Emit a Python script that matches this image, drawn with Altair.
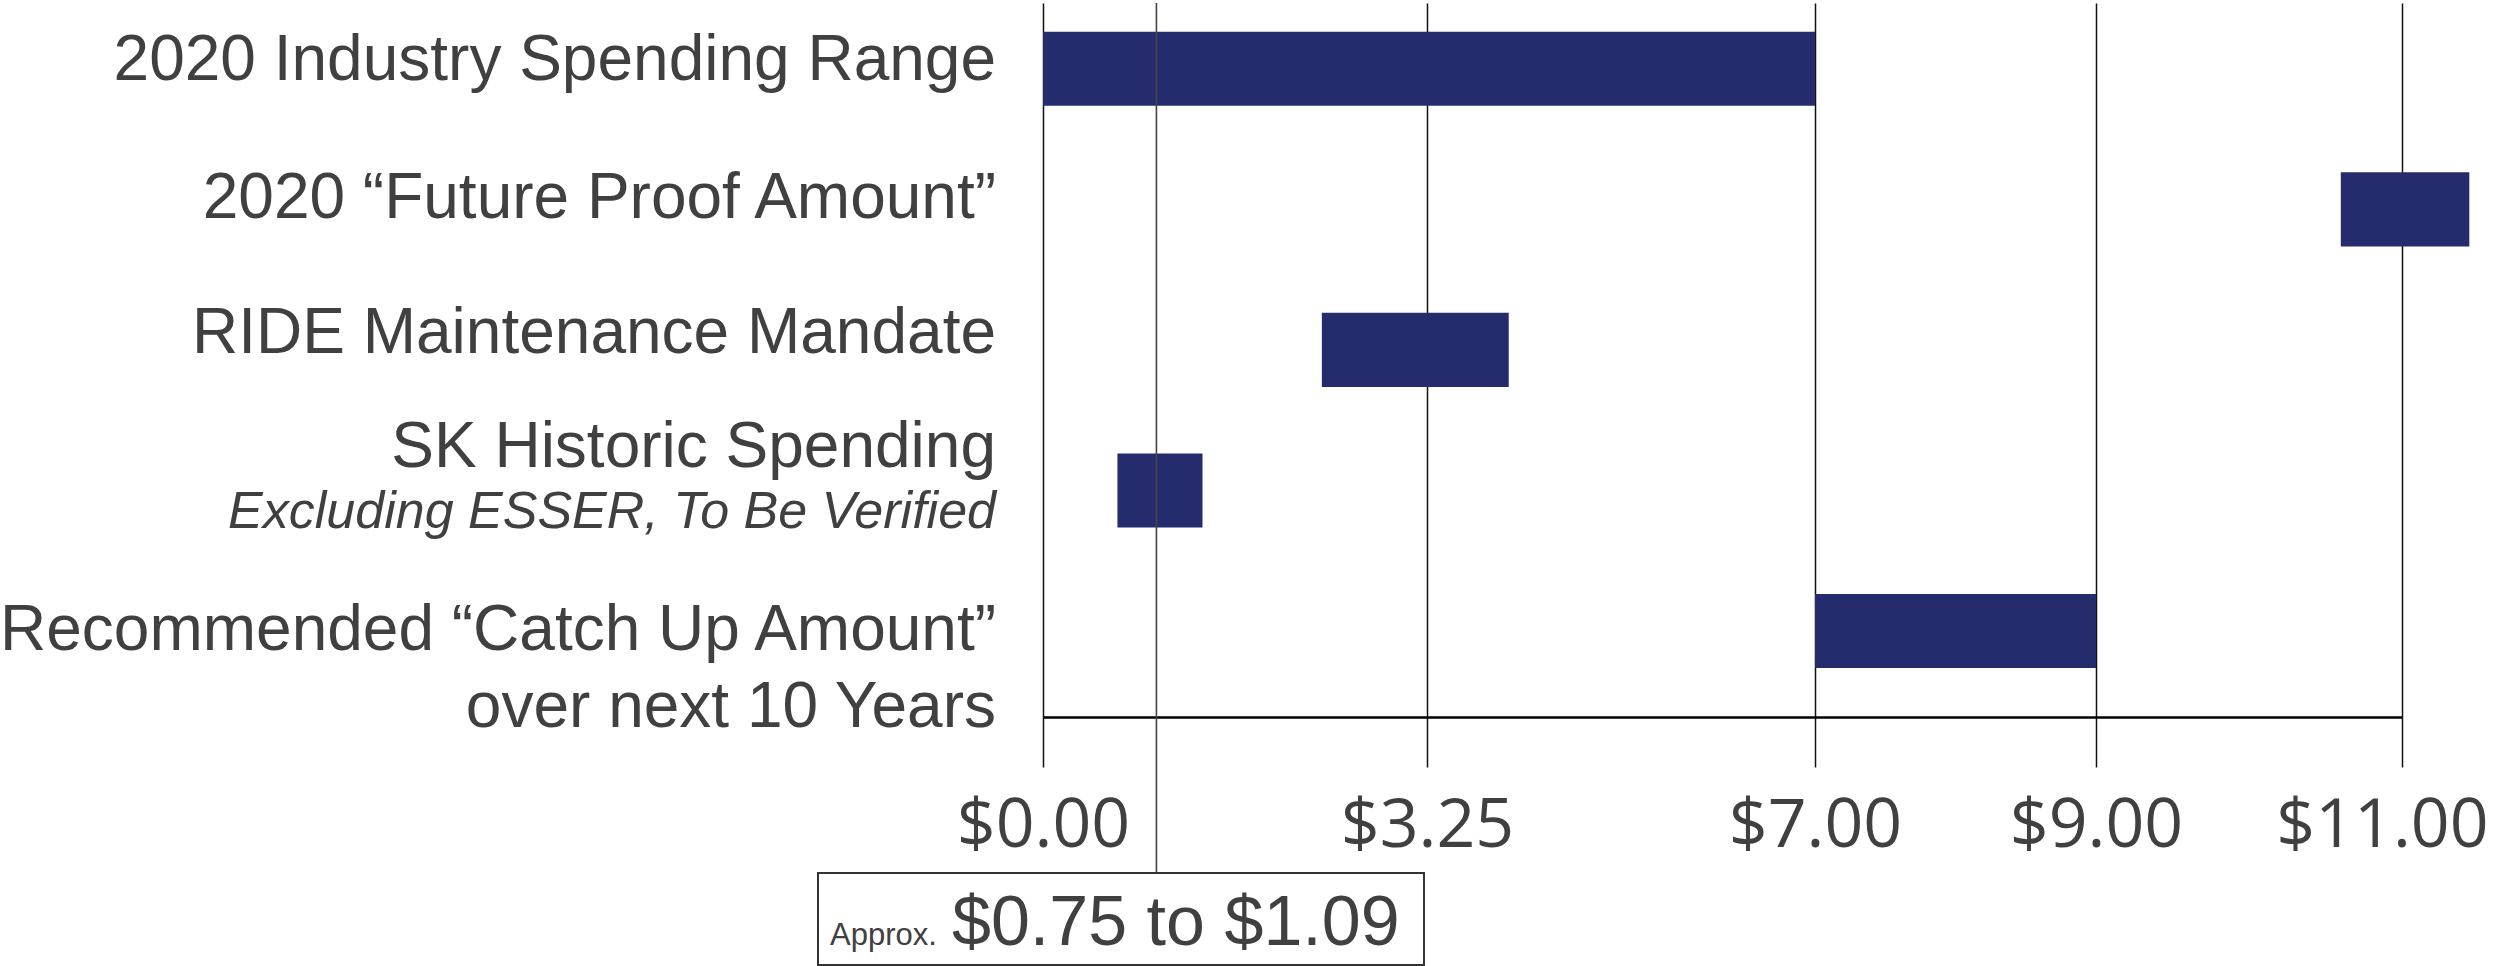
import altair as alt
import pandas as pd

# ---- data ----
categories = [
    "2020 Industry Spending Range",
    "2020 \u201cFuture Proof Amount\u201d",
    "RIDE Maintenance Mandate",
    "SK Historic Spending",
    "Recommended \u201cCatch Up Amount\u201d",
]
sublabels = ["", "", "", "Excluding ESSER, To Be Verified", "over next 10 Years"]
range_start = [0.0, 10.6, 2.36, 0.63, 7.0]
range_end = [7.0, 11.44, 4.04, 1.35, 9.0]
tick_values = [0, 3.25, 7, 9, 11]
callout_value = 0.96
callout_range = [0.75, 1.09]

df = pd.DataFrame({"category": categories, "sub": sublabels,
                   "start": range_start, "end": range_end})

NAVY = "#252C6E"
TXT = "#404040"
LABEL_FONT = "Liberation Sans"

# piecewise (non-uniform) x axis as in the original
xscale = alt.Scale(domain=tick_values, range=[0, 384, 772, 1053, 1359],
                   nice=False, zero=False)
yscale = alt.Scale(domain=categories, paddingInner=0.473, paddingOuter=0.277, align=0.37)

base = alt.Chart(df)

bars = base.mark_bar(color=NAVY, cornerRadius=0).encode(
    x=alt.X("start:Q", scale=xscale,
            axis=alt.Axis(values=tick_values, format="$.2f", title=None,
                          grid=True, gridColor="#111111", gridWidth=1.5,
                          tickColor="#111111", tickWidth=1.5, tickSize=50,
                          domainColor="#000000", domainWidth=2.5,
                          labelFont="Open Sans", labelFontSize=68,
                          labelColor=TXT, labelPadding=25, labelFlush=False,
                          labelOverlap=False, labelLimit=1000,
                          labelOffset={"condition": {"test": "datum.value >= 11",
                                                     "value": -20},
                                       "value": 0})),
    x2="end:Q",
    y=alt.Y("category:N", scale=yscale, axis=None, sort=categories),
)

# label line offsets (px) per row: (first line, second line)
line_dy = [(-8, None), (-10, None), (-16, None), (-42, 22), (0, 77)]

layers = [bars]
for i, cat in enumerate(categories):
    d1, d2 = line_dy[i]
    layers.append(
        base.transform_filter(alt.datum.category == cat)
        .mark_text(align="right", baseline="middle", font=LABEL_FONT,
                   fontSize=64, color=TXT, dy=d1)
        .encode(x=alt.value(-47),
                y=alt.Y("category:N", scale=yscale, axis=None, sort=categories),
                text="category:N")
    )
    if d2 is not None:
        italic = (i == 3)
        layers.append(
            base.transform_filter(alt.datum.category == cat)
            .mark_text(align="right", baseline="middle", font=LABEL_FONT,
                       fontSize=52 if italic else 64,
                       fontStyle="italic" if italic else "normal",
                       color=TXT, dy=d2)
            .encode(x=alt.value(-47),
                    y=alt.Y("category:N", scale=yscale, axis=None, sort=categories),
                    text="sub:N")
        )

# callout: line, box and text
callout_df = pd.DataFrame({"v": [callout_value],
                           "lo": [callout_range[0]], "hi": [callout_range[1]]})
cbase = alt.Chart(callout_df)
callout_rule = cbase.mark_rule(color="#444444", strokeWidth=1.6).encode(
    x=alt.X("v:Q", scale=xscale), y=alt.value(0), y2=alt.value(870))
callout_box = cbase.mark_rect(fill="white", stroke="#333333", strokeWidth=2).encode(
    x=alt.value(-225), x2=alt.value(381), y=alt.value(870), y2=alt.value(962))
approx_txt = cbase.mark_text(align="left", baseline="alphabetic", font=LABEL_FONT,
                             fontSize=31, color=TXT).encode(
    x=alt.value(-213), y=alt.value(942), text=alt.value("Approx."))
range_txt = cbase.transform_calculate(
    t="format(datum.lo, '$.2f') + ' to ' + format(datum.hi, '$.2f')"
).mark_text(align="left", baseline="alphabetic", font=LABEL_FONT,
            fontSize=70, color=TXT).encode(
    x=alt.value(-91), y=alt.value(942), text="t:N")

layers += [callout_rule, callout_box, approx_txt, range_txt]

chart = alt.layer(*layers).properties(
    width=1359, height=714,
    autosize=alt.AutoSizeParams(type="none"),
    padding={"left": 1043, "top": 3, "right": 92, "bottom": 249},
    background="white",
).configure_view(stroke=None)

chart.save("out.html", embed_options={"renderer": "svg", "actions": False})
